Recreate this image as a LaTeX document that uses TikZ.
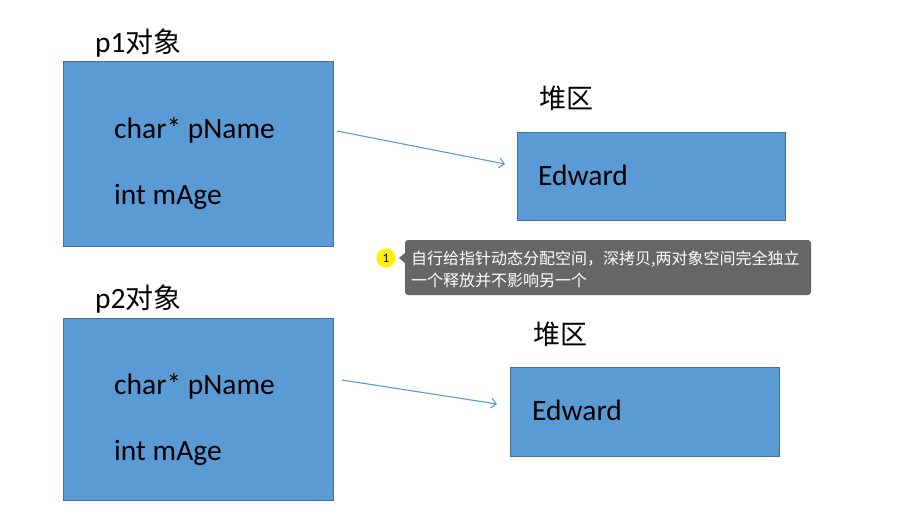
\documentclass[tikz,border=0pt]{standalone}
\usepackage{fontspec}
\setmainfont{Carlito}
\newfontfamily\cjk{Noto Sans CJK SC}
\usetikzlibrary{arrows.meta}
\definecolor{boxfill}{HTML}{5B9BD5}
\definecolor{boxline}{HTML}{41719C}
\definecolor{tipgray}{HTML}{666666}
\begin{document}
\begin{tikzpicture}[x=1pt,y=-1pt,
  objbox/.style={draw=boxline,fill=boxfill,line width=1pt},
  lbl/.style={anchor=base west,inner sep=0pt,font=\fontsize{29.5}{30}\selectfont},
  arr/.style={draw=boxfill,line width=1.1pt,-{Straight Barb[length=5pt,width=10pt]}},
  tiptext/.style={anchor=base west,inner sep=0pt,text=white,font=\cjk\fontsize{16}{17}\selectfont}]
\useasboundingbox[fill=white] (0,0) rectangle (917,529);
% top group
\node[lbl] (t1) at (95,53) {p1{\cjk\fontsize{28}{30}\selectfont 对象}};
\draw[objbox] (63,62) rectangle (333,246);
\node[lbl] (c1) at (114,139) {char* pName};
\node[lbl] (i1) at (114,205) {int mAge};
\node[lbl] (h1) at (539,109) {\cjk\fontsize{27}{30}\selectfont 堆区};
\draw[objbox] (517,133) rectangle (785,221);
\node[lbl] (e1) at (538,186) {Edward};
\coordinate (a1s) at (337,131);
\coordinate (a1e) at (505,164);
\draw[arr] (a1s) -- (a1e);
% bottom group
\node[lbl] (t2) at (95,308) {p2{\cjk\fontsize{28}{30}\selectfont 对象}};
\draw[objbox] (63,318) rectangle (333,500);
\node[lbl] (c2) at (114,394) {char* pName};
\node[lbl] (i2) at (114,460) {int mAge};
\node[lbl] (h2) at (533,344) {\cjk\fontsize{27}{30}\selectfont 堆区};
\draw[objbox] (510,367) rectangle (779,456);
\node[lbl] (e2) at (532,420) {Edward};
\coordinate (a2s) at (342,380);
\coordinate (a2e) at (497,404);
\draw[arr] (a2s) -- (a2e);
% comment tooltip
\fill[tipgray,rounded corners=3pt] (405,240) rectangle (811,295);
\fill[tipgray] (406,252) -- (399,258) -- (406,264) -- cycle;
\node[circle,fill=yellow,minimum size=19pt,inner sep=0pt,font=\fontsize{13}{13}\selectfont] (n1) at (386,258) {1};
\node[tiptext] (tt1) at (411,264) {自行给指针动态分配空间，深拷贝,两对象空间完全独立};
\node[tiptext] (tt2) at (411,286) {一个释放并不影响另一个};
\end{tikzpicture}
\end{document}
